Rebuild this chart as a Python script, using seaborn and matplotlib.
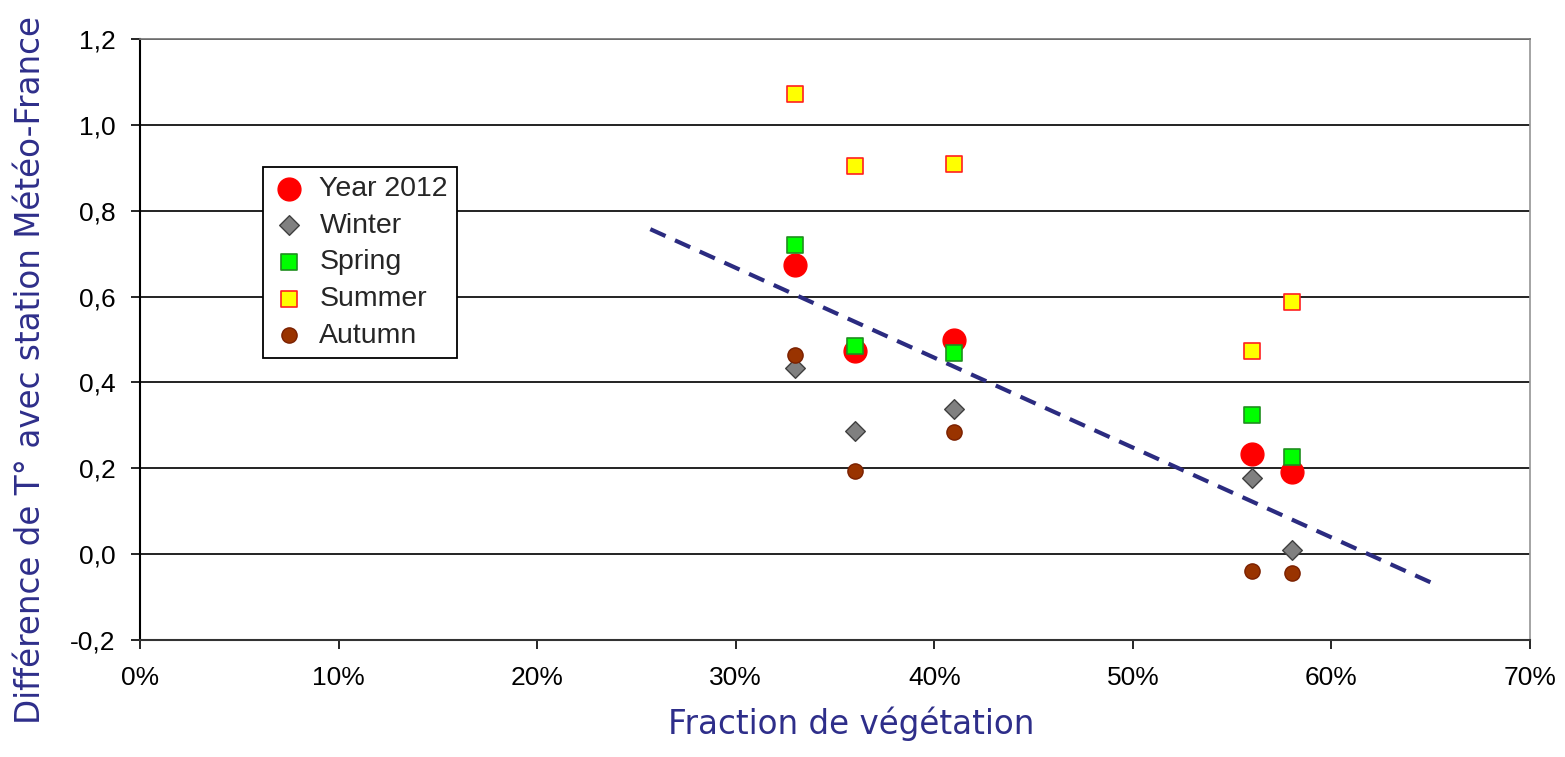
import numpy as np
import pandas as pd
import matplotlib
matplotlib.use("Agg")
import matplotlib.pyplot as plt
import seaborn as sns
from matplotlib.ticker import FuncFormatter

veg = [0.33, 0.36, 0.41, 0.56, 0.58]
year2012 = [0.674, 0.473, 0.499, 0.233, 0.191]
winter = [0.434, 0.287, 0.338, 0.177, 0.010]
spring = [0.720, 0.485, 0.469, 0.324, 0.226]
summer = [1.072, 0.904, 0.909, 0.473, 0.587]
autumn = [0.464, 0.194, 0.285, -0.039, -0.044]
trend_x = [0.257, 0.652]
trend_y = [0.757, -0.070]
xticks = [0, 0.1, 0.2, 0.3, 0.4, 0.5, 0.6, 0.7]
yticks = [-0.2, 0.0, 0.2, 0.4, 0.6, 0.8, 1.0, 1.2]

sns.set_theme(style="white")
plt.rcParams['font.family'] = ['Liberation Sans', 'DejaVu Sans']

fig = plt.figure(figsize=(15.65, 7.57), dpi=100)
ax = fig.add_axes([140/1565, 1-640/757, 1390/1565, 601/757])

df = pd.DataFrame({
    "veg": veg * 5,
    "val": year2012 + winter + spring + summer + autumn,
    "series": ["Year 2012"]*5 + ["Winter"]*5 + ["Spring"]*5 + ["Summer"]*5 + ["Autumn"]*5,
})
styles = {
    "Year 2012": dict(marker="o", s=270, color="#ff0000", edgecolor="#ff0000", linewidth=1),
    "Winter": dict(marker="D", s=100, color="#808080", edgecolor="#404040", linewidth=1),
    "Spring": dict(marker="s", s=140, color="#00ff00", edgecolor="#1f8f1f", linewidth=1.2),
    "Summer": dict(marker="s", s=140, color="#ffff00", edgecolor="#ff2020", linewidth=1.2),
    "Autumn": dict(marker="o", s=120, color="#993300", edgecolor="#7a2000", linewidth=1),
}
for name, st in styles.items():
    sub = df[df.series == name]
    sns.scatterplot(data=sub, x="veg", y="val", ax=ax, label=name, zorder=3, **st)

sns.lineplot(x=trend_x, y=trend_y, ax=ax, color="#2b2b80", linestyle=(0, (4, 2.5)),
             linewidth=3, zorder=2, legend=False)

ax.set_xlim(0, 0.7)
ax.set_ylim(-0.2, 1.2)
ax.set_xticks(xticks)
ax.set_yticks(yticks)
ax.xaxis.set_major_formatter(FuncFormatter(lambda v, p: f"{v*100:.0f}%"))
ax.yaxis.set_major_formatter(FuncFormatter(lambda v, p: f"{v:.1f}".replace(".", ",").replace("-0,0", "0,0")))
ax.tick_params(axis="both", labelsize=19, colors="black", length=6.5, width=1.2, direction="out",
               bottom=True, left=True)
ax.tick_params(axis="x", pad=12)
ax.tick_params(axis="y", pad=11)
for t in ax.get_xticklabels() + ax.get_yticklabels():
    t.set_color("black")
ax.yaxis.grid(True, color="#111111", linewidth=1.3)
ax.set_axisbelow(True)
ax.spines["left"].set_color("black")
ax.spines["left"].set_linewidth(1.5)
ax.spines["bottom"].set_color("#333333")
ax.spines["bottom"].set_linewidth(1.5)
ax.spines["right"].set_color("#999999")
ax.spines["top"].set_color("#777777")

lab_color = "#2e2e8a"
ax.set_xlabel("Fraction de végétation", fontsize=23.5, color=lab_color, family=["DejaVu Sans"])
ax.set_ylabel("Différence de T° avec station Météo-France", fontsize=23.5, color=lab_color,
              family=["DejaVu Sans"])
ax.xaxis.set_label_coords(0.512, -0.11)
ax.yaxis.set_label_coords(-0.067, 0.449)

leg = ax.legend(loc="upper left", bbox_to_anchor=(0.0885, 0.787), fontsize=20.5, frameon=True,
                fancybox=False, edgecolor="black", framealpha=1, borderpad=0.33,
                labelspacing=0.37, handlelength=1.2, handletextpad=0.45, borderaxespad=0)
leg.get_frame().set_linewidth(1.3)

fig.savefig("out.png", dpi=100)
